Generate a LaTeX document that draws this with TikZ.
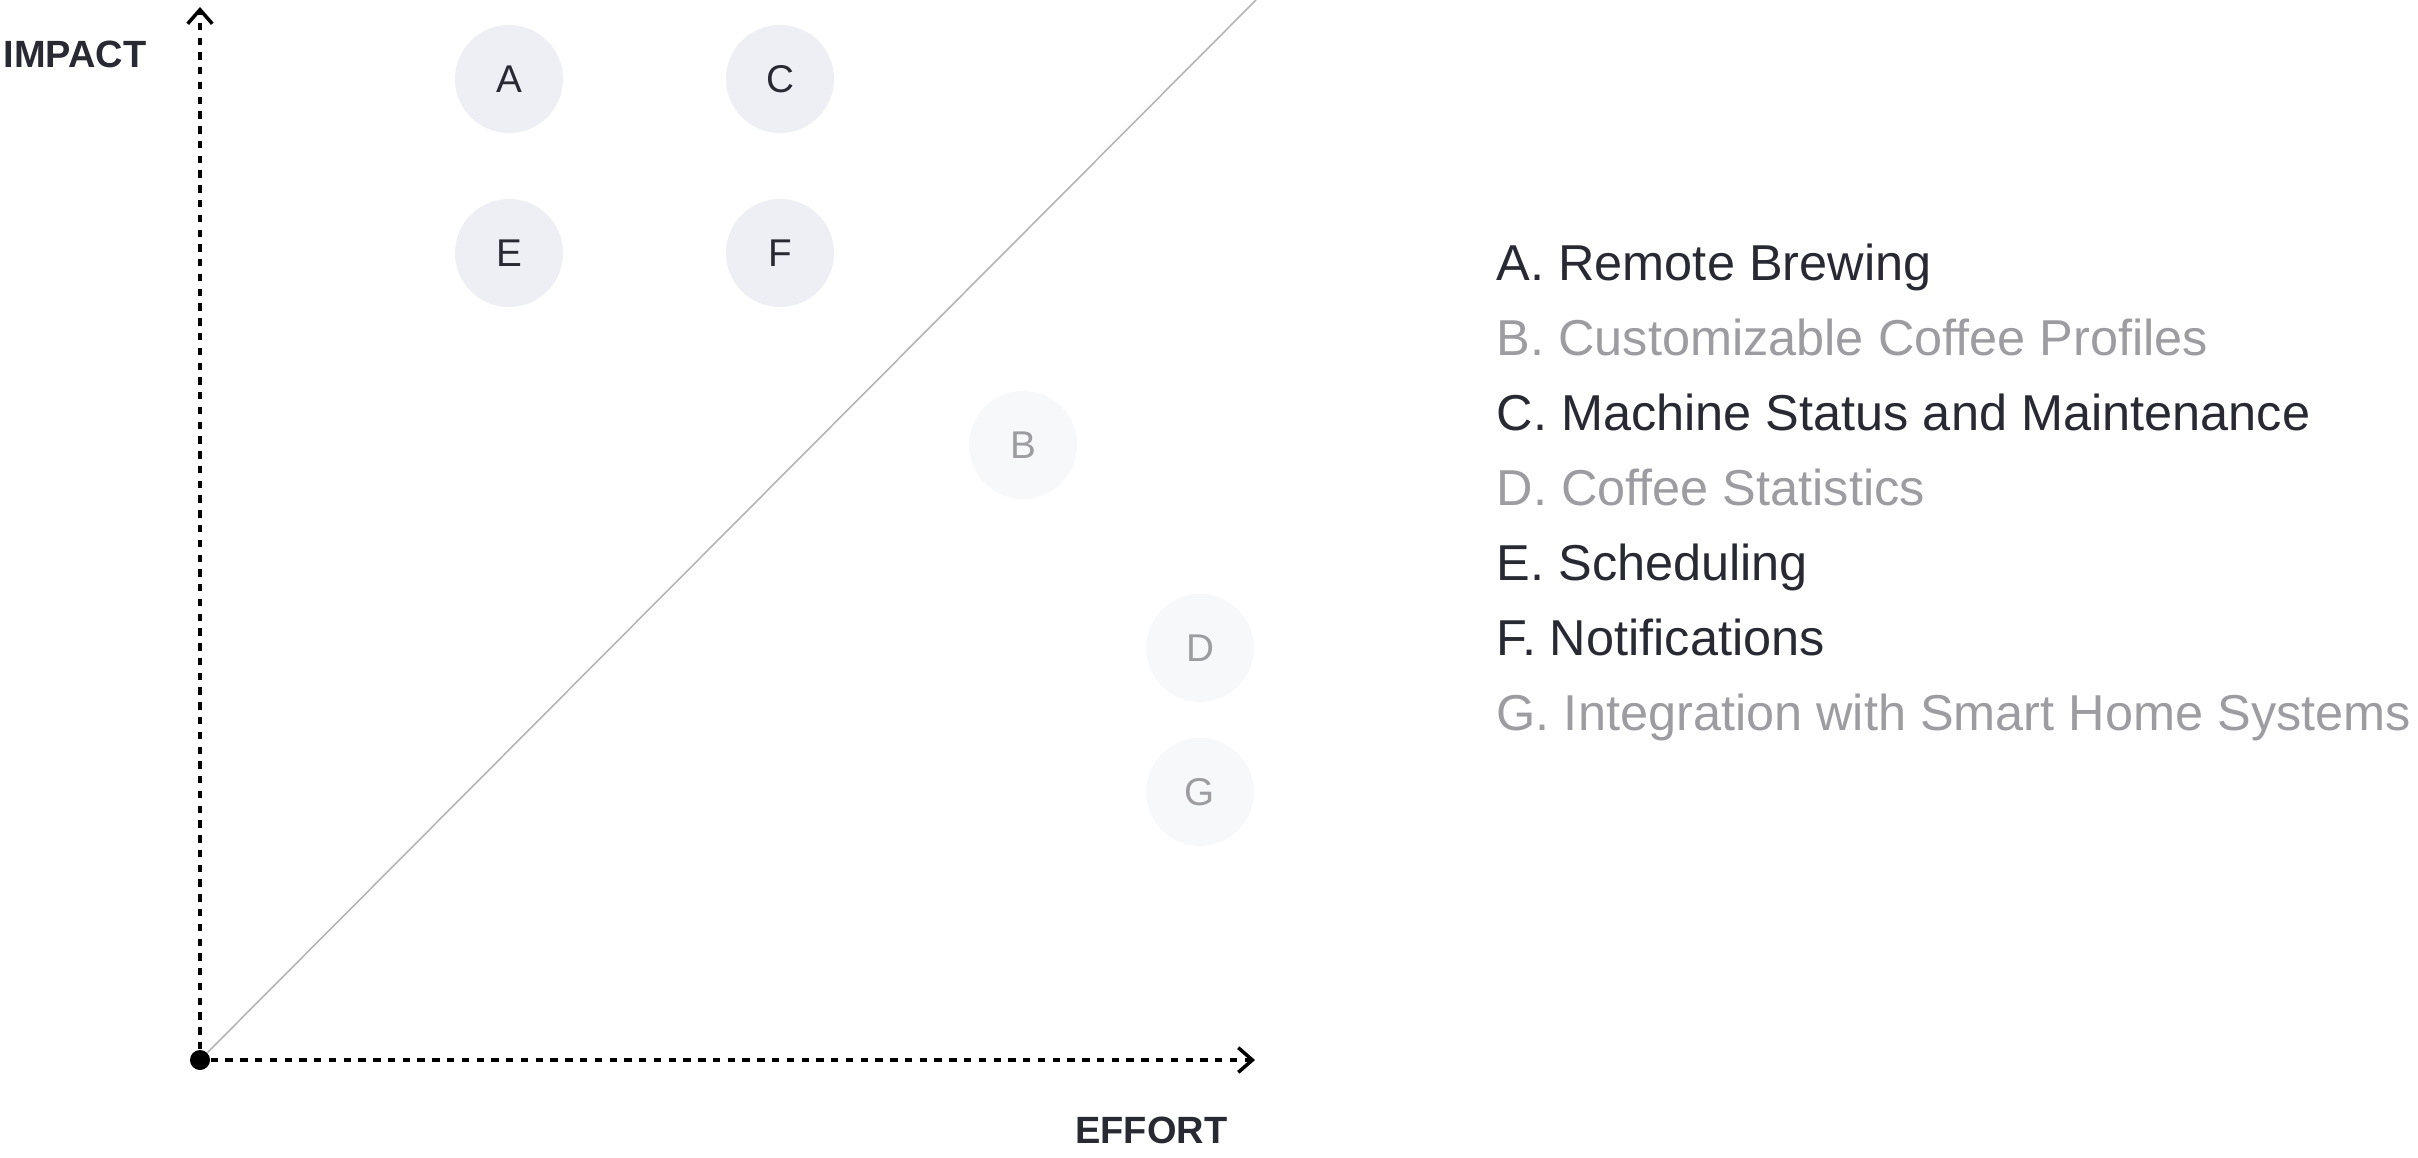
\documentclass[tikz,border=0pt]{standalone}
\usepackage{fontspec}
\setmainfont{Liberation Sans}
\usetikzlibrary{arrows.meta}
\definecolor{ink}{HTML}{282932}
\definecolor{faded}{HTML}{9C9CA1}
\definecolor{bubble}{HTML}{EEEFF4}
\definecolor{palebubble}{HTML}{F7F8FA}
\definecolor{diag}{HTML}{B4B4B4}

\begin{document}
\begin{tikzpicture}[x=0.01cm,y=-0.01cm,
  axis/.style={line width=1pt, dash pattern=on 2.1pt off 2.1pt,
    -{Straight Barb[length=4pt,width=7pt]}},
  hot/.style={circle, fill=bubble, minimum size=1.08cm, inner sep=0,
    text=ink, font=\fontsize{11}{11}\selectfont},
  cold/.style={hot, fill=palebubble, text=faded},
  item/.style={anchor=base west, inner sep=0, font=\fontsize{14.35}{17}\selectfont},
  axislabel/.style={inner sep=0, text=ink, font=\fontsize{10.8}{11}\selectfont\bfseries}]
 \useasboundingbox (0,0) rectangle (2418,1157);
 % \draw[help lines, step=100] (0,0) grid (2418,1157);
 \node[circle, fill=black, inner sep=0, minimum size=0.2cm] (o) at (200,1060) {};
 \coordinate (ytip) at (200,7);
 \coordinate (xtip) at (1255,1060);
 \coordinate (corner) at (1256,0);
 \draw[diag, line width=0.45pt] (o) -- (corner);
 \draw[axis] (o) -- (ytip);
 \draw[axis] (o) -- (xtip);
 \node[axislabel, anchor=base west] (impact) at (3,67) {IMPACT};
 \node[axislabel, anchor=base east] (effort) at (1228,1143) {EFFORT};

 % features on the matrix
 \node[hot] (a) at (509,79) {A};
 \node[hot] (c) at (780,79) {C};
 \node[hot] (e) at (509,253) {E};
 \node[hot] (f) at (780,253) {F};
 \node[cold] (b) at (1023,445) {B};
 \node[cold] (d) at (1200,648) {D};
 \node[cold] (g) at (1200,792) {G};

 % legend
 \node[item, text=ink] (la) at (1496,280) {A. Remote Brewing};
 \node[item, text=faded] (lb) at (1496,355) {B. Customizable Coffee Profiles};
 \node[item, text=ink] (lc) at (1496,430) {C. Machine Status and Maintenance};
 \node[item, text=faded] (ld) at (1496,505) {D. Coffee Statistics};
 \node[item, text=ink] (le) at (1496,580) {E. Scheduling};
 \node[item, text=ink] (lf) at (1496,655) {F. Notifications};
 \node[item, text=faded] (lg) at (1496,730) {G. Integration with Smart Home Systems};
\end{tikzpicture}
\end{document}
